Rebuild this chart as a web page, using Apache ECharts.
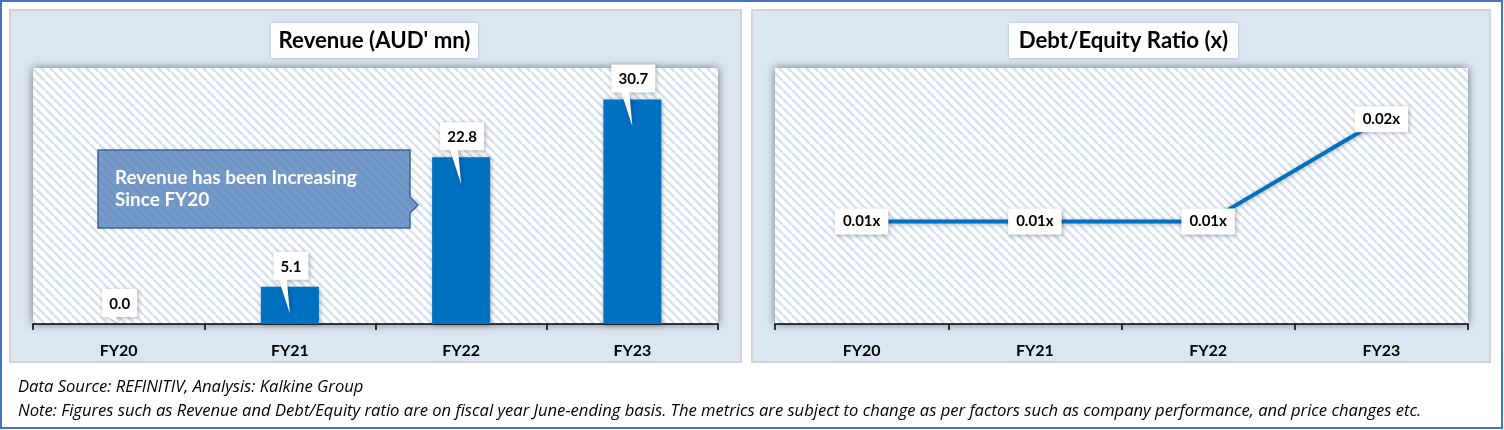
<!DOCTYPE html>
<html>
<head>
<meta charset="utf-8">
<script src="https://cdn.jsdelivr.net/npm/echarts@6/dist/echarts.min.js"></script>
<style>
html,body{margin:0;padding:0;background:#fff;}
#c{width:1504px;height:430px;}
</style>
</head>
<body>
<div id="c"></div>
<script>
// ---- data ----
const categories = ['FY20', 'FY21', 'FY22', 'FY23'];
const revenue = [0.0, 5.1, 22.8, 30.7];
const debtEquity = [0.01, 0.01, 0.01, 0.02];
const revenueTitle = "Revenue (AUD' mn)";
const deTitle = 'Debt/Equity Ratio (x)';
const calloutText = 'Revenue has been Increasing\nSince FY20';
const sourceText = 'Data Source: REFINITIV, Analysis: Kalkine Group';
const noteText = 'Note: Figures such as Revenue and Debt/Equity ratio are on fiscal year June-ending basis. The metrics are subject to change as per factors such as company performance, and price changes etc.';

const FONT = 'Lato, "Open Sans", sans-serif';
const NOTEFONT = '"Open Sans", Lato, sans-serif';
const BLUE = '#0070c0';

// hatch pattern
function makeHatch(){
  const s = 9;
  const cv = document.createElement('canvas');
  cv.width = s; cv.height = s;
  const ctx = cv.getContext('2d');
  ctx.fillStyle = '#ffffff';
  ctx.fillRect(0,0,s,s);
  ctx.strokeStyle = '#d3e1f3';
  ctx.lineWidth = 2.6;
  for (const k of [-s, 0, s]) {
    ctx.beginPath();
    ctx.moveTo(k, 0);
    ctx.lineTo(k + s, s);
    ctx.stroke();
  }
  return {image: cv, repeat: 'repeat'};
}
const hatch = makeHatch();

const measureCv = document.createElement('canvas').getContext('2d');
function textW(t, font){ measureCv.font = font; return measureCv.measureText(t).width; }
// font size so that text spans the wanted width
function fitSize(t, style, family, want){
  const w = textW(t, style + ' 20px ' + family);
  return Math.round(20 * want / w * 10) / 10;
}
const noteSize = fitSize(noteText, 'italic', NOTEFONT, 1402);
const titleSize = fitSize(revenueTitle, 'bold', FONT, 192);
const calloutSize = fitSize('Revenue has been Increasing', 'bold', FONT, 242);

const chart = echarts.init(document.getElementById('c'), null, {renderer:'canvas'});

const gridCommon = {
  show: true,
  backgroundColor: hatch,
  borderWidth: 0,
  shadowBlur: 10,
  shadowColor: 'rgba(0,0,0,0.5)',
  shadowOffsetX: 0,
  shadowOffsetY: 0
};

const xAxisCommon = {
  type: 'category',
  boundaryGap: true,
  axisLine: {show: true, lineStyle: {color: '#000', width: 1.5}},
  axisTick: {show: true, length: 6, lineStyle: {color: '#000', width: 1.5}},
  axisLabel: {color: '#000', fontFamily: FONT, fontWeight: 'bold', fontSize: 16, margin: 19},
  splitLine: {show: false}
};

const labelFont = 'bold 15px ' + FONT;

const option = {
  animation: false,
  backgroundColor: '#ffffff',
  graphic: [
    {type: 'rect', z: -10, shape: {x: 1, y: 1, width: 1501, height: 427}, style: {fill: '#ffffff', stroke: '#4472c4', lineWidth: 2}},
    {type: 'rect', z: -9, shape: {x: 10, y: 10, width: 731, height: 352}, style: {fill: '#dce6f2', stroke: '#d4d4d4', lineWidth: 2}},
    {type: 'rect', z: -9, shape: {x: 752, y: 10, width: 738, height: 352}, style: {fill: '#dce6f2', stroke: '#d4d4d4', lineWidth: 2}},
    {type: 'rect', z: 5, shape: {x: 271, y: 23, width: 207, height: 35}, style: {fill: '#fff', shadowBlur: 3, shadowColor: 'rgba(0,0,0,0.2)'}},
    {type: 'text', z: 6, style: {text: revenueTitle, x: 374.5, y: 41, align: 'center', verticalAlign: 'middle', font: 'bold ' + titleSize + 'px ' + FONT, fill: '#000'}},
    {type: 'rect', z: 5, shape: {x: 1009, y: 23, width: 229, height: 35}, style: {fill: '#fff', shadowBlur: 3, shadowColor: 'rgba(0,0,0,0.2)'}},
    {type: 'text', z: 6, style: {text: deTitle, x: 1123.5, y: 41, align: 'center', verticalAlign: 'middle', font: 'bold ' + titleSize + 'px ' + FONT, fill: '#000'}},
    // callout
    {type: 'polygon', z: 20, shape: {points: [[98,150],[410,150],[410,197],[418,205],[410,213],[410,228],[98,228]]},
      style: {fill: 'rgba(79,125,183,0.78)', stroke: '#3d6499', lineWidth: 1.5}},
    {type: 'text', z: 21, style: {text: calloutText, x: 115, y: 167, align: 'left', verticalAlign: 'top', lineHeight: 22, font: 'bold ' + calloutSize + 'px ' + FONT, fill: '#ffffff'}},
    // footnotes
    {type: 'text', z: 5, style: {text: sourceText, x: 18, y: 387, verticalAlign: 'middle', font: 'italic ' + noteSize + 'px ' + NOTEFONT, fill: '#000'}},
    {type: 'text', z: 5, style: {text: noteText, x: 18, y: 411, verticalAlign: 'middle', font: 'italic ' + noteSize + 'px ' + NOTEFONT, fill: '#000'}}
  ],
  grid: [
    Object.assign({left: 33, top: 68, width: 685, height: 256}, gridCommon),
    Object.assign({left: 775, top: 68, width: 693, height: 256}, gridCommon)
  ],
  xAxis: [
    Object.assign({gridIndex: 0, data: categories}, xAxisCommon),
    Object.assign({gridIndex: 1, data: categories}, xAxisCommon)
  ],
  yAxis: [
    {gridIndex: 0, type: 'value', min: 0, max: 35, show: false, splitLine: {show: false}},
    {gridIndex: 1, type: 'value', min: 0, max: 0.025, show: false, splitLine: {show: false}}
  ],
  series: [
    {
      type: 'bar', xAxisIndex: 0, yAxisIndex: 0, data: revenue, barWidth: 58, z: 3,
      itemStyle: {color: BLUE, shadowBlur: 5, shadowColor: 'rgba(0,0,0,0.35)', shadowOffsetX: 1, shadowOffsetY: 1}
    },
    {
      type: 'custom', xAxisIndex: 0, yAxisIndex: 0, z: 10,
      data: revenue.map((v, i) => [i, v]),
      renderItem: function(params, api){
        const p = api.coord([api.value(0), api.value(1)]);
        const base = api.coord([api.value(0), 0]);
        const cx = p[0], top = p[1];
        const txt = api.value(1).toFixed(1);
        const w = Math.round(textW(txt, labelFont) + 14);
        const h = 28, gap = 7;
        const x0 = cx - w / 2 + 1, x1 = x0 + w;
        const y0 = top - gap - h, y1 = y0 + h;
        const tip = Math.min(top + 27, base[1] - 1);
        return {
          type: 'group',
          children: [
            {type: 'polygon', shape: {points: [[x0,y0],[x1,y0],[x1,y1],[cx-3,y1],[cx,tip],[cx-11,y1],[x0,y1]]},
              style: {fill: '#ffffff', shadowBlur: 4, shadowColor: 'rgba(0,0,0,0.3)', shadowOffsetX: 1, shadowOffsetY: 1}},
            {type: 'text', style: {text: txt, x: x0 + w / 2, y: y0 + h / 2 + 1, align: 'center', verticalAlign: 'middle', font: labelFont, fill: '#000'}}
          ]
        };
      }
    },
    {
      type: 'line', xAxisIndex: 1, yAxisIndex: 1, data: debtEquity, z: 5,
      symbol: 'circle', symbolSize: 1, showSymbol: true,
      itemStyle: {color: BLUE},
      lineStyle: {color: BLUE, width: 4, shadowBlur: 4, shadowColor: 'rgba(0,0,0,0.3)', shadowOffsetY: 1},
      label: {
        show: true, position: 'inside',
        formatter: p => p.value.toFixed(2) + 'x',
        color: '#000', fontFamily: FONT, fontWeight: 'bold', fontSize: 15,
        backgroundColor: '#ffffff', padding: [6, 8, 5, 8],
        shadowBlur: 4, shadowColor: 'rgba(0,0,0,0.3)', shadowOffsetX: 1, shadowOffsetY: 1
      }
    }
  ]
};
chart.setOption(option);
</script>
</body>
</html>
